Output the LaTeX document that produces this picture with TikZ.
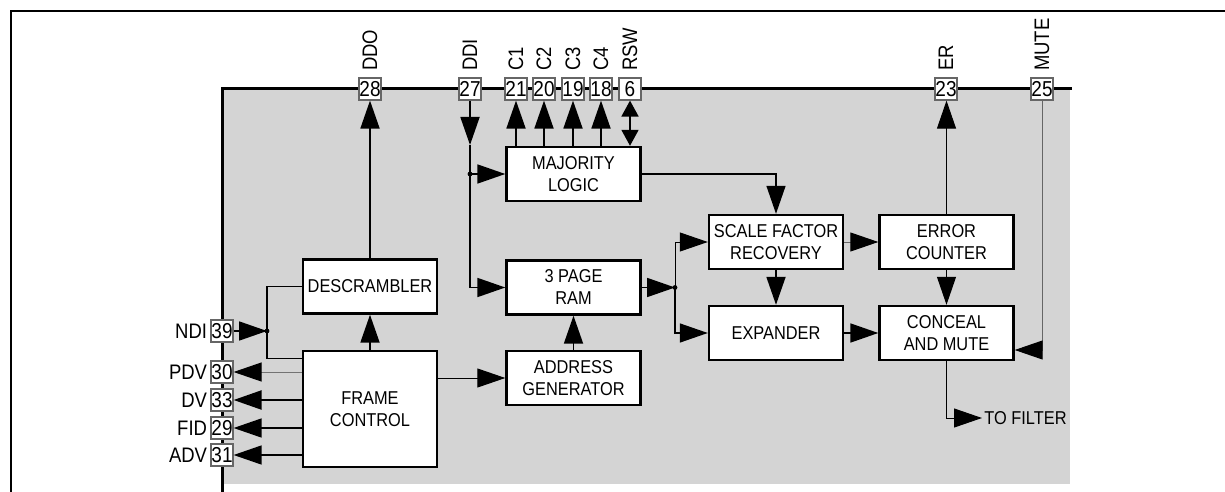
\documentclass[tikz,border=0pt]{standalone}
\usepackage{fontspec}
\setmainfont{Liberation Sans}[FakeStretch=0.88]
\usetikzlibrary{arrows.meta,calc}

\begin{document}
\begin{tikzpicture}[
  x=0.5pt, y=-0.5pt,
  font=\fontsize{9.3}{11}\selectfont,
  block/.style={draw, line width=1.2pt, fill=white, align=center, minimum width=67pt, minimum height=27pt, inner sep=1pt},
  pin/.style={draw=black!60, line width=0.6pt, fill=white, minimum size=11pt, inner sep=0pt, font=\fontsize{10.8}{10}\selectfont},
  pinlbl/.style={inner sep=1.5pt, font=\fontsize{10.5}{10}\selectfont},
  flow/.style={-{Triangle[length=14pt,width=9.5pt,color=black]}, line width=0.9pt},
  thinflow/.style={-{Triangle[length=14pt,width=9.5pt,color=black]}, line width=0.5pt},
  bothflow/.style={{Triangle[length=8pt,width=8.5pt]}-{Triangle[length=8pt,width=8.5pt]}, line width=0.9pt},
  wire/.style={line width=0.6pt},
  dot/.style={circle, fill, inner sep=0pt, minimum size=2.4pt}
]
\useasboundingbox (0,0) rectangle (1225,492);

% outer frame
\draw[line width=1.2pt] (1225,11) -- (11,11) -- (11,492);

% chip body
\fill[black!17] (222,89) rectangle (1070,484);
\draw[line width=1.5pt] (222,492) -- (222,89) -- (1072,89);

% blocks
\node[block] (desc) at (370,286.5) {DESCRAMBLER};
\node[block, minimum height=58pt] (frame) at (370,409) {FRAME\\CONTROL};
\node[block] (major) at (573.5,174) {MAJORITY\\LOGIC};
\node[block] (ram) at (573.5,287.5) {3 PAGE\\RAM};
\node[block] (addr) at (573.5,378) {ADDRESS\\GENERATOR};
\node[block] (sfr) at (776,242) {SCALE FACTOR\\RECOVERY};
\node[block] (errc) at (946.5,242) {ERROR\\COUNTER};
\node[block] (expd) at (776,333) {EXPANDER};
\node[block] (conc) at (946.5,333) {CONCEAL\\AND MUTE};

% top pins
\foreach \n/\x/\lbl in {28/370/DDO, 27/470/DDI, 21/516/C1, 20/544/C2, 19/573/C3, 18/601/C4, 6/630/RSW, 23/946/ER, 25/1042/MUTE}{
  \node[pin] (p\n) at (\x,89) {\n};
  \node[pinlbl, rotate=90, anchor=west] (l\n) at ($(p\n.north)+(0,-3)$) {\lbl};
}

% left pins
\foreach \n/\y/\lbl in {39/331/NDI, 30/372/PDV, 33/400/DV, 29/428/FID, 31/455/ADV}{
  \node[pin] (p\n) at (222,\y) {\n};
  \node[pinlbl, anchor=east] (l\n) at (p\n.west) {\lbl};
}

% descrambler and frame control
\draw[flow] (desc.north) -- (desc.north |- p28.south);
\draw[flow] (frame.north) -- (desc.south);
\coordinate (jn) at (267,331);
\draw[flow] (p39.east) -- (jn);
\draw[wire] (desc.west) -| (jn) |- ($(frame.north west)+(0,9)$);
\node[dot] at (jn) {};
\draw[thinflow, draw=black!55] (frame.west |- p30) -- (p30.east);
\draw[flow, line width=1.1pt] (frame.west |- p33) -- (p33.east);
\draw[flow, line width=0.7pt] (frame.west |- p29) -- (p29.east);
\draw[flow, line width=0.7pt] (frame.west |- p31) -- (p31.east);
\draw[thinflow] (frame.east |- addr) -- (addr.west);

% DDI input
\coordinate (ddiarr) at (470,145);
\coordinate (jd) at (p27 |- major.west);
\draw[flow] (p27.south) -- (ddiarr);
\draw[wire] (ddiarr) -- (jd);
\draw[flow] (jd) -- (major.west);
\draw[flow] (jd) |- (ram.west);
\node[dot] at (jd) {};

% majority logic outputs
\foreach \n in {21,20,19,18}{
  \draw[flow] (major.north -| p\n) -- (p\n.south);
}
\draw[bothflow] (major.north -| p6) -- (p6.south);
\draw[flow, line width=0.7pt] (major.east) -| (sfr.north);

% RAM and address generator
\draw[flow] (addr.north) -- (ram.south);
\coordinate (jr) at (675,287.5);
\draw[flow] (ram.east) -- (jr);
\draw[thinflow] (jr) |- (sfr.west);
\draw[flow, line width=0.7pt] (jr) |- (expd.west);
\node[dot] at (jr) {};

% right side
\draw[flow] (sfr.south) -- (expd.north);
\draw[thinflow, draw=black!60] (sfr.east) -- (errc.west);
\draw[thinflow] (errc.north) -- (errc.north |- p23.south);
\draw[thinflow] (errc.south) -- (conc.north);
\draw[flow] (expd.east) -- (conc.west);
\coordinate (mt) at (1042,350);
\draw[thinflow, draw=black!60] (p25.south) -- (mt) -- (mt -| conc.east);
\node[anchor=west, inner sep=1pt] (tofilt) at (982,418) {TO FILTER};
\draw[thinflow] (conc.south) |- (tofilt.west);
\end{tikzpicture}
\end{document}
